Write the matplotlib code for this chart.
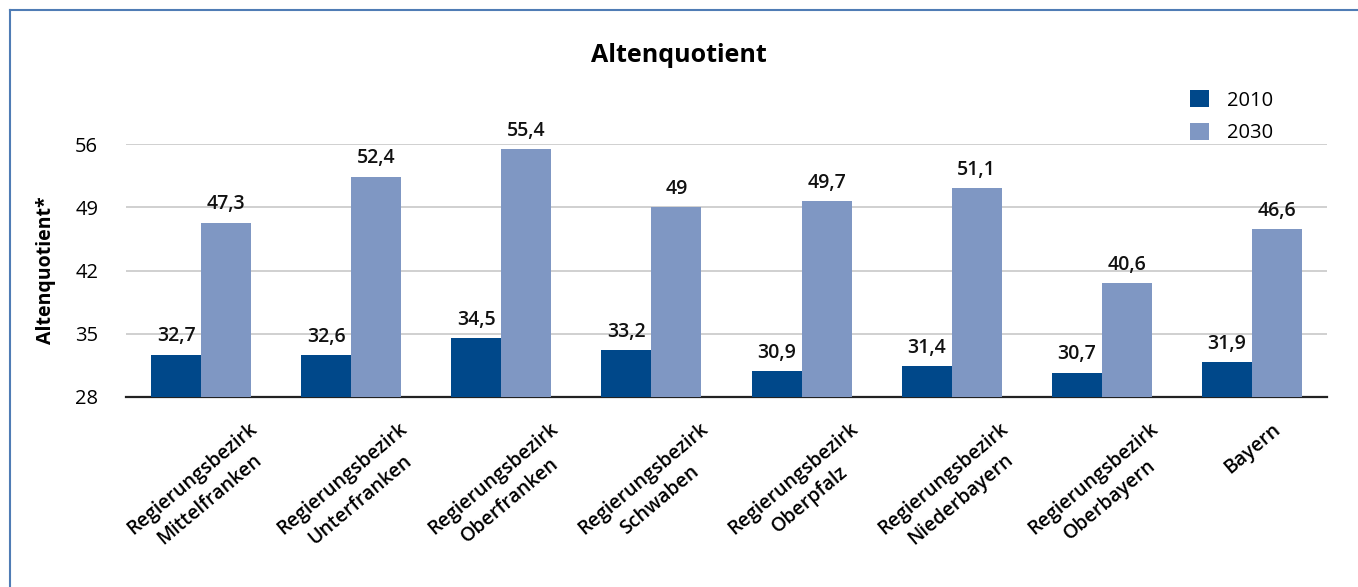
import matplotlib
matplotlib.use("Agg")
import matplotlib.pyplot as plt
import numpy as np
from matplotlib.lines import Line2D

plt.rcParams['font.family'] = ['Open Sans', 'DejaVu Sans']

categories = ["Regierungsbezirk\nMittelfranken", "Regierungsbezirk\nUnterfranken",
              "Regierungsbezirk\nOberfranken", "Regierungsbezirk\nSchwaben",
              "Regierungsbezirk\nOberpfalz", "Regierungsbezirk\nNiederbayern",
              "Regierungsbezirk\nOberbayern", "Bayern"]
values_2010 = [32.7, 32.6, 34.5, 33.2, 30.9, 31.4, 30.7, 31.9]
values_2030 = [47.3, 52.4, 55.4, 49.0, 49.7, 51.1, 40.6, 46.6]
labels_2010 = ["32,7", "32,6", "34,5", "33,2", "30,9", "31,4", "30,7", "31,9"]
labels_2030 = ["47,3", "52,4", "55,4", "49", "49,7", "51,1", "40,6", "46,6"]
yticks = [28, 35, 42, 49, 56]

c2010 = "#00488a"
c2030 = "#7f97c3"

fig = plt.figure(figsize=(13.58, 5.87), dpi=100)
ax = fig.add_axes([126/1358, 1-397/587, (1327-126)/1358, (397-144)/587])

x = np.arange(len(categories))
w = 1/3
ax.bar(x - w/2, np.array(values_2010) - 28, w, bottom=28, color=c2010, label="2010", zorder=3)
ax.bar(x + w/2, np.array(values_2030) - 28, w, bottom=28, color=c2030, label="2030", zorder=3)

for xi, v, l in zip(x, values_2010, labels_2010):
    ax.text(xi - w/2, v + 0.9, l, ha='center', va='bottom', fontsize=14, fontweight='semibold', color='#111111')
for xi, v, l in zip(x, values_2030, labels_2030):
    ax.text(xi + w/2, v + 0.9, l, ha='center', va='bottom', fontsize=14, fontweight='semibold', color='#111111')

ax.set_xlim(-0.5, 7.5)
ax.set_ylim(28, 56)
ax.set_yticks(yticks)
ax.set_yticklabels([str(t) for t in yticks], fontsize=14.5)
ax.yaxis.grid(True, color='#c8c8c8', linewidth=1.2, zorder=0)
ax.set_axisbelow(True)
for s in ['top', 'right', 'left']:
    ax.spines[s].set_visible(False)
ax.spines['bottom'].set_color('#222222')
ax.spines['bottom'].set_linewidth(1.6)
ax.spines['bottom'].set_zorder(2)
ax.tick_params(axis='y', length=0, pad=20)
ax.tick_params(axis='x', length=0, pad=16)
ax.set_xticks(x)
ax.set_xticklabels(categories, rotation=40, ha='center', fontsize=14, fontweight='semibold',
                   multialignment='center', linespacing=1.45)
ax.set_ylabel("Altenquotient*", fontsize=14, fontweight='bold')
ax.yaxis.set_label_coords(-(126-56)/1201, 0.5)

fig.text(0.5, 1-56/587, "Altenquotient", ha='center', va='center', fontsize=18, fontweight='bold')

leg = ax.legend(loc='upper left', bbox_to_anchor=(1172/1358, 1-72/587), bbox_transform=fig.transFigure,
                frameon=False, fontsize=14.5, handlelength=0.95, handleheight=0.95, labelspacing=0.6,
                handletextpad=0.9)

# figure border (top and left)
fig.add_artist(Line2D([9.5/1358, 9.5/1358], [0, 1-9.5/587], transform=fig.transFigure, color='#4f7cb5', linewidth=1.5))
fig.add_artist(Line2D([9.5/1358, 1], [1-9.5/587, 1-9.5/587], transform=fig.transFigure, color='#4f7cb5', linewidth=1.5))

fig.savefig("out.png", dpi=100)
